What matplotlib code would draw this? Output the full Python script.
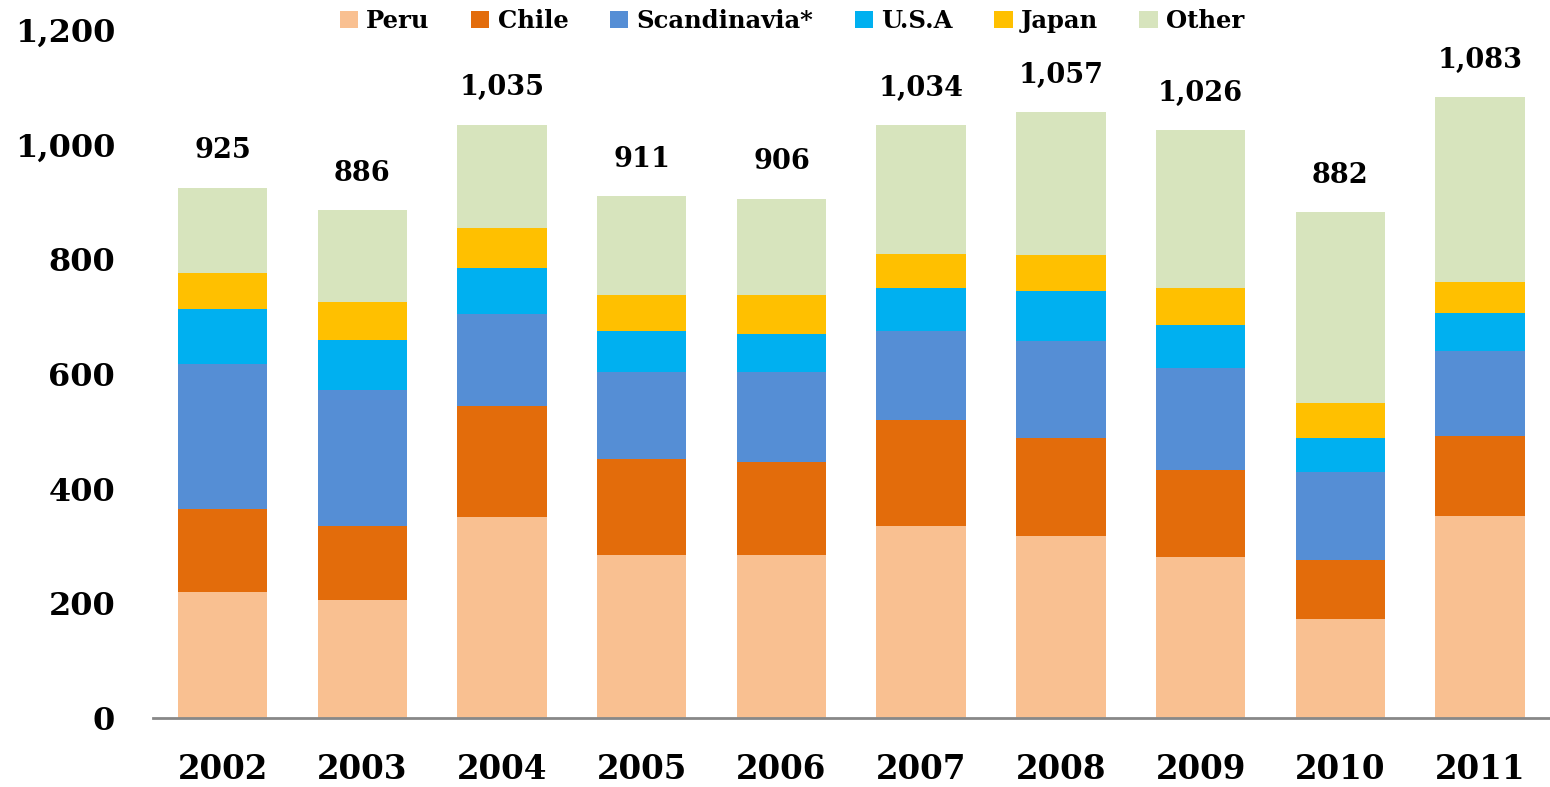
import numpy as np
import matplotlib
matplotlib.use("Agg")
import matplotlib.pyplot as plt

# values
years = ["2002", "2003", "2004", "2005", "2006", "2007", "2008", "2009", "2010", "2011"]
peru = [220, 205, 350, 285, 284, 335, 318, 280, 172, 352]
chile = [144, 130, 194, 166, 163, 185, 171, 152, 104, 139]
scandinavia = [253, 237, 160, 153, 157, 155, 169, 178, 153, 149]
usa = [96, 88, 81, 71, 65, 75, 86, 76, 60, 67]
japan = [64, 66, 69, 63, 69, 59, 63, 64, 60, 54]
other = [148, 160, 181, 173, 168, 225, 250, 276, 333, 322]
totals = [925, 886, 1035, 911, 906, 1034, 1057, 1026, 882, 1083]

series = [
    ("Peru", peru, "#F9C091"),
    ("Chile", chile, "#E36C0B"),
    ("Scandinavia*", scandinavia, "#558ED5"),
    ("U.S.A", usa, "#00B0F0"),
    ("Japan", japan, "#FFC000"),
    ("Other", other, "#D7E4BD"),
]

plt.rcParams["font.family"] = ["DejaVu Serif"]
plt.rcParams["font.weight"] = "bold"

fig = plt.figure(figsize=(15.5, 7.87), dpi=100)
ax = fig.add_axes([0.0985, 1 - 718 / 787, 0.9015, 688 / 787])

x = np.arange(len(years))
bottom = np.zeros(len(years))
for name, vals, color in series:
    ax.bar(x, vals, 0.64, bottom=bottom, color=color, label=name, linewidth=0)
    bottom += np.array(vals)

for xi, tot in zip(x, totals):
    ax.annotate(f"{tot:,}", (xi, tot), xytext=(0, 21), textcoords="offset points",
                ha="center", va="baseline", fontsize=19.5, fontweight="bold")

ax.set_xlim(-0.5, len(years) - 0.5)
ax.set_ylim(0, 1200)
ax.set_yticks(range(0, 1201, 200))
ax.set_yticklabels([f"{v:,}" for v in range(0, 1201, 200)])
ax.set_xticks(x)
ax.set_xticklabels(years)
ax.tick_params(axis="y", length=0, pad=27, labelsize=23)
ax.tick_params(axis="x", length=0, pad=25, labelsize=23.5)

for side in ["top", "right", "left"]:
    ax.spines[side].set_visible(False)
ax.spines["bottom"].set_color("#888888")
ax.spines["bottom"].set_linewidth(2)
ax.set_clip_on(False)

fig.legend(loc="center", bbox_to_anchor=(792 / 1550, 1 - 21 / 787), ncol=6,
           frameon=False, fontsize=17.5, handlelength=0.75, handleheight=0.75,
           handletextpad=0.35, columnspacing=1.7, borderpad=0)

fig.savefig("out.png", dpi=100)
